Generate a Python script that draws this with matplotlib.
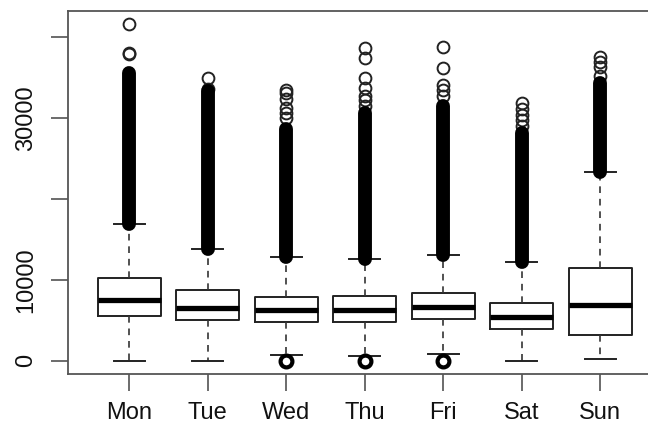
import matplotlib.pyplot as plt

days = ['Mon', 'Tue', 'Wed', 'Thu', 'Fri', 'Sat', 'Sun']

# five-number summaries per weekday
q1 = [5560, 4980, 4730, 4720, 5180, 3900, 3150]
med = [7530, 6500, 6200, 6250, 6600, 5400, 6830]
q3 = [10250, 8680, 7900, 7960, 8320, 7150, 11400]
whis_lo = [0, 0, 740, 560, 800, 0, 220]
whis_hi = [16900, 13800, 12750, 12530, 13060, 12250, 23300]

# outliers above the whisker are so dense they merge into a solid column
dense_top = [35600, 33300, 28600, 30600, 31500, 28200, 34400]

# separate high outliers above the dense column
high_out = [
    [37900, 38100, 41600],
    [33600, 34900],
    [30000, 30600, 31300, 32300, 33100, 33500],
    [31500, 32200, 32700, 33700, 35000, 37400, 38700],
    [32700, 33500, 34100, 36200, 38800],
    [29000, 29700, 30400, 31100, 31900],
    [35200, 36300, 37000, 37600],
]
# zero-valued outliers (many stacked on top of each other)
low_out = [[], [], [0], [0], [0], [], []]

plt.rcParams['font.family'] = ['Liberation Sans', 'DejaVu Sans']

fig = plt.figure(figsize=(6.48, 4.34), dpi=100)
ax = fig.add_axes([68 / 648, 60 / 434, 593.5 / 648, 363 / 434])

stats = []
for i in range(len(days)):
    stats.append(dict(med=med[i], q1=q1[i], q3=q3[i],
                      whislo=whis_lo[i], whishi=whis_hi[i],
                      fliers=high_out[i] + low_out[i], label=days[i]))

edge = '#222222'
ax.bxp(stats, positions=range(1, 8), widths=0.8,
       boxprops=dict(color=edge, linewidth=1.4),
       medianprops=dict(color='black', linewidth=3.8, solid_capstyle='butt'),
       whiskerprops=dict(color='#333333', linewidth=1.2, linestyle=(0, (4, 3.5))),
       capprops=dict(color=edge, linewidth=1.4),
       capwidths=0.4,
       flierprops=dict(marker='o', markersize=8.5, markerfacecolor='none',
                       markeredgecolor=edge, markeredgewidth=1.4))

for i in range(len(days)):
    x = i + 1
    ax.plot([x, x], [whis_hi[i], dense_top[i]], color='black',
            linewidth=10, solid_capstyle='round', zorder=3)
    if low_out[i]:
        ax.plot([x] * len(low_out[i]), low_out[i], 'o', markersize=8.5,
                markerfacecolor='none', markeredgecolor='black',
                markeredgewidth=3.0, zorder=4)

ax.set_xlim(0.22, 7.78)
ax.set_ylim(-1670, 43250)

ax.set_xticks(range(1, 8))
ax.set_xticklabels(days)
ax.set_yticks([0, 10000, 20000, 30000, 40000])
ax.set_yticklabels(['0', '10000', '', '30000', ''], rotation=90, va='center')

ax.tick_params(axis='both', length=12, width=1.1, color='#444444',
               labelsize=17, labelcolor='#111111')
ax.tick_params(axis='x', pad=8)
ax.tick_params(axis='y', pad=10)

for side in ['left', 'top', 'bottom', 'right']:
    ax.spines[side].set_color('#555555')
    ax.spines[side].set_linewidth(1.3)

fig.savefig('out.png', dpi=100)
